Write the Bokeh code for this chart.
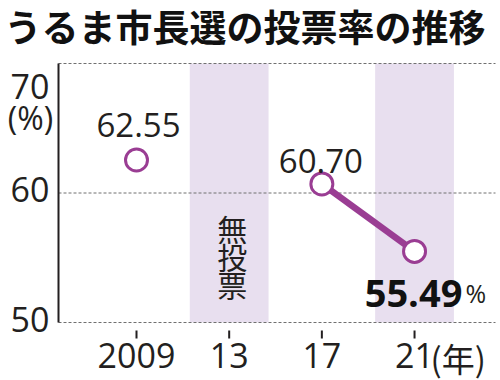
from bokeh.plotting import figure
from bokeh.models import Range1d, Label, LabelSet, ColumnDataSource
from bokeh.core.properties import value
from bokeh.embed import file_html
from bokeh.resources import INLINE

# ---- data ----
years = [2009, 2013, 2017, 2021]
turnout = [62.55, float("nan"), 60.70, 55.49]   # 2013: 無投票 (no vote)
tick_labels = ["2009", "13", "17", "21"]
no_vote_years = [2013, 2021]                     # shaded columns
no_vote_chars = ["無", "投", "票"]
title_text = "うるま市長選の投票率の推移"
y_ticks = [50, 60, 70]
y_tick_labels = ["50", "60"]
y_min, y_max = 50, 70

# ---- style / layout ----
PURPLE = "#9a3d93"
BAND = "#e8dfef"
INK = "#231f20"
GRID = "#707070"
LATIN = "Open Sans"
CJK = "Noto Sans CJK JP"

W, H = 500, 380
PX_PER_YEAR = 23.17
PX_PER_PCT = 12.95
# canvas-spanning ranges: 2009 at x=136px, 50% at y=322px
XS = 2009 - 136 / PX_PER_YEAR
XE = XS + W / PX_PER_YEAR
YS = y_min - (H - 322) / PX_PER_PCT
YE = YS + H / PX_PER_PCT
AXIS_X = XS + 58 / PX_PER_YEAR     # vertical axis line position
GRID_END = XS + 495 / PX_PER_YEAR

p = figure(width=W, height=H, output_backend="svg", toolbar_location=None, title=None,
           x_range=Range1d(XS, XE), y_range=Range1d(YS, YE),
           x_axis_location=None, y_axis_location=None,
           min_border=0, min_border_left=0, min_border_right=0,
           min_border_top=0, min_border_bottom=0)
p.outline_line_color = None
p.background_fill_color = "white"
p.border_fill_color = "white"
p.xgrid.visible = False
p.ygrid.visible = False

# shaded columns
p.vbar(x=no_vote_years, width=3.4, bottom=y_min, top=y_max,
       fill_color=BAND, line_color=None, level="image")

# dashed horizontal grid
p.segment(x0=AXIS_X, x1=GRID_END, y0=y_ticks, y1=y_ticks,
          line_color=GRID, line_width=1, line_dash="3 2")

# y axis line
p.segment(x0=[AXIS_X], x1=[AXIS_X], y0=[y_min], y1=[y_max], line_color=INK, line_width=2)

# x ticks (detached, below baseline)
p.segment(x0=years, x1=years, y0=y_min - 8 / PX_PER_PCT, y1=y_min - 16 / PX_PER_PCT,
          line_color=INK, line_width=2)

# line + points
p.line(years, turnout, line_width=6.5, line_color=PURPLE)
p.scatter(years, turnout, size=22, fill_color="white", line_color=PURPLE, line_width=3)

# x tick labels
xsrc = ColumnDataSource(dict(x=years, y=[y_min] * len(years), t=tick_labels))
p.add_layout(LabelSet(x="x", y="y", text="t", source=xsrc, y_offset=-45, text_align="center",
                      text_baseline="alphabetic", text_font=value(LATIN),
                      text_font_size=value("34px"), text_color=value(INK)))
p.add_layout(Label(x=years[-1], y=y_min, text="(年)", x_offset=16, y_offset=-35, text_align="left",
                   text_baseline="middle", text_font=CJK, text_font_size="33px", text_color=INK))

# y tick labels
ysrc = ColumnDataSource(dict(x=[AXIS_X] * len(y_tick_labels), y=y_ticks[:2], t=y_tick_labels))
p.add_layout(LabelSet(x="x", y="y", text="t", source=ysrc, x_offset=-9, y_offset=-9,
                      text_align="right", text_baseline="alphabetic", text_font=value(LATIN),
                      text_font_size=value("34px"), text_color=value(INK)))
p.add_layout(Label(x=AXIS_X, y=y_ticks[2], text=str(y_ticks[2]), x_offset=-9, y_offset=-23,
                   text_align="right", text_baseline="alphabetic", text_font=LATIN,
                   text_font_size="34px", text_color=INK))
p.add_layout(Label(x=AXIS_X, y=y_ticks[2], text="(%)", x_offset=-28, y_offset=-54,
                   text_align="center", text_baseline="alphabetic", text_font=LATIN,
                   text_font_size="32px", text_color=INK))

# title
p.add_layout(Label(x=XS, y=y_max, text=title_text, x_offset=4, y_offset=38, text_align="left",
                   text_baseline="middle", text_font=CJK, text_font_style="bold",
                   text_font_size="37px", text_color="#111111"))

# 無投票 (vertical)
for i, ch in enumerate(no_vote_chars):
    p.add_layout(Label(x=no_vote_years[0], y=y_min, text=ch, x_offset=3, y_offset=95 - 28 * i,
                       text_align="center", text_baseline="middle",
                       text_font=CJK, text_font_size="30px", text_color=INK))

# value labels
p.add_layout(Label(x=years[0], y=turnout[0], text=f"{turnout[0]:.2f}", x_offset=2, y_offset=35,
                   text_align="center", text_baseline="alphabetic", text_font=LATIN,
                   text_font_size="33px", text_color=INK))
p.add_layout(Label(x=years[2], y=turnout[2], text=f"{turnout[2]:.2f}", x_offset=-1, y_offset=23,
                   text_align="center", text_baseline="alphabetic", text_font=LATIN,
                   text_font_size="33px", text_color=INK))
p.add_layout(Label(x=years[3], y=turnout[3], text=f"{turnout[3]:.2f}", x_offset=-1, y_offset=-42,
                   text_align="center", text_baseline="alphabetic", text_font=LATIN,
                   text_font_style="bold", text_font_size="38px", text_color="#111111"))
p.add_layout(Label(x=years[3], y=turnout[3], text="%", x_offset=51, y_offset=-42,
                   text_align="left", text_baseline="alphabetic", text_font=LATIN,
                   text_font_size="25px", text_color=INK))

open("out.html", "w").write(file_html(p, INLINE))
